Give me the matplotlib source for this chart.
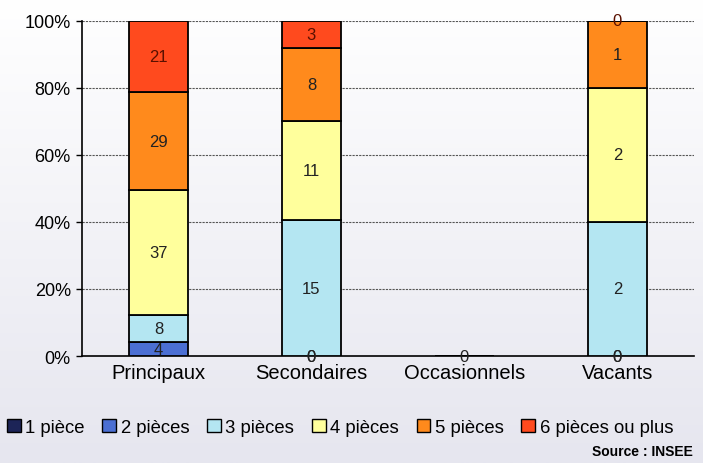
import numpy as np
import matplotlib
matplotlib.use("Agg")
import matplotlib.pyplot as plt
from matplotlib.patches import Patch
from matplotlib.colors import LinearSegmentedColormap

categories = ["Principaux", "Secondaires", "Occasionnels", "Vacants"]
series_names = ["1 pièce", "2 pièces", "3 pièces", "4 pièces", "5 pièces", "6 pièces ou plus"]
p1 = [0, 0, 0, 0]
p2 = [4, 0, 0, 0]
p3 = [8, 15, 0, 2]
p4 = [37, 11, 0, 2]
p5 = [29, 8, 0, 1]
p6 = [21, 3, 0, 0]
colors = ["#1c2457", "#4b6fd3", "#b4e6f2", "#ffff9c", "#ff8a1c", "#ff4a1e"]
yticks = [0, 20, 40, 60, 80, 100]
ytick_labels = ["0%", "20%", "40%", "60%", "80%", "100%"]
source = "Source : INSEE"

plt.rcParams['font.family'] = ['Liberation Sans', 'DejaVu Sans']

fig = plt.figure(figsize=(7.03, 4.64), dpi=100)
bg = fig.add_axes([0, 0, 1, 1], zorder=-10)
grad = np.linspace(0, 1, 256).reshape(-1, 1)
cmap = LinearSegmentedColormap.from_list("bg", ["#ffffff", "#e6e6ef"])
bg.imshow(grad, aspect='auto', cmap=cmap, extent=[0, 1, 0, 1], origin='upper')
bg.axis('off')

ax = fig.add_axes([0.1166, 0.2306, 0.8704, 0.722])
ax.patch.set_alpha(0)

data = np.array([p1, p2, p3, p4, p5, p6], dtype=float)
totals = data.sum(axis=0)
x = np.arange(len(categories))
bottom = np.zeros(len(categories))
for i, name in enumerate(series_names):
    vals = data[i]
    pct = np.where(totals > 0, vals / np.where(totals > 0, totals, 1) * 100, 0)
    ax.bar(x, pct, 0.39, bottom=bottom, color=colors[i], edgecolor="black",
           linewidth=1.3, label=name, zorder=3)
    for j in range(len(categories)):
        if totals[j] == 0 and i > 0:
            continue
        if i == 0 and data[1][j] > 0:
            continue
        yc = bottom[j] + pct[j] / 2
        ax.text(x[j], yc, f"{int(vals[j])}", ha="center", va="center",
                fontsize=12, color="#222222" if i != 5 else "#5a1000", zorder=4)
    bottom = bottom + pct

ax.set_xlim(-0.5, len(categories) - 0.5)
ax.set_ylim(0, 100)
ax.set_yticks(yticks)
ax.set_yticklabels(ytick_labels, fontsize=13)
ax.set_xticks(x)
ax.set_xticklabels(categories, fontsize=14.5)
ax.tick_params(axis='x', length=0, pad=5)
ax.tick_params(axis='y', direction='out', length=4, width=1, pad=4)
for y in yticks[1:]:
    ax.axhline(y, color="#555555", linestyle=(0, (2, 1)), linewidth=0.8, zorder=1)
ax.spines['top'].set_visible(False)
ax.spines['right'].set_visible(False)
ax.spines['left'].set_linewidth(1.2)
ax.spines['bottom'].set_linewidth(1.2)

handles = [Patch(facecolor=c, edgecolor="black", linewidth=1) for c in colors]
fig.legend(handles, series_names, loc="center left", bbox_to_anchor=(-0.001, 0.077),
           ncol=6, frameon=False, fontsize=13.3, handlelength=0.75, handleheight=0.75,
           handletextpad=0.25, columnspacing=0.95, borderaxespad=0)
fig.text(0.985, 0.025, source, ha="right", va="center", fontsize=10, fontweight="bold")

fig.savefig("out.png", dpi=100)
